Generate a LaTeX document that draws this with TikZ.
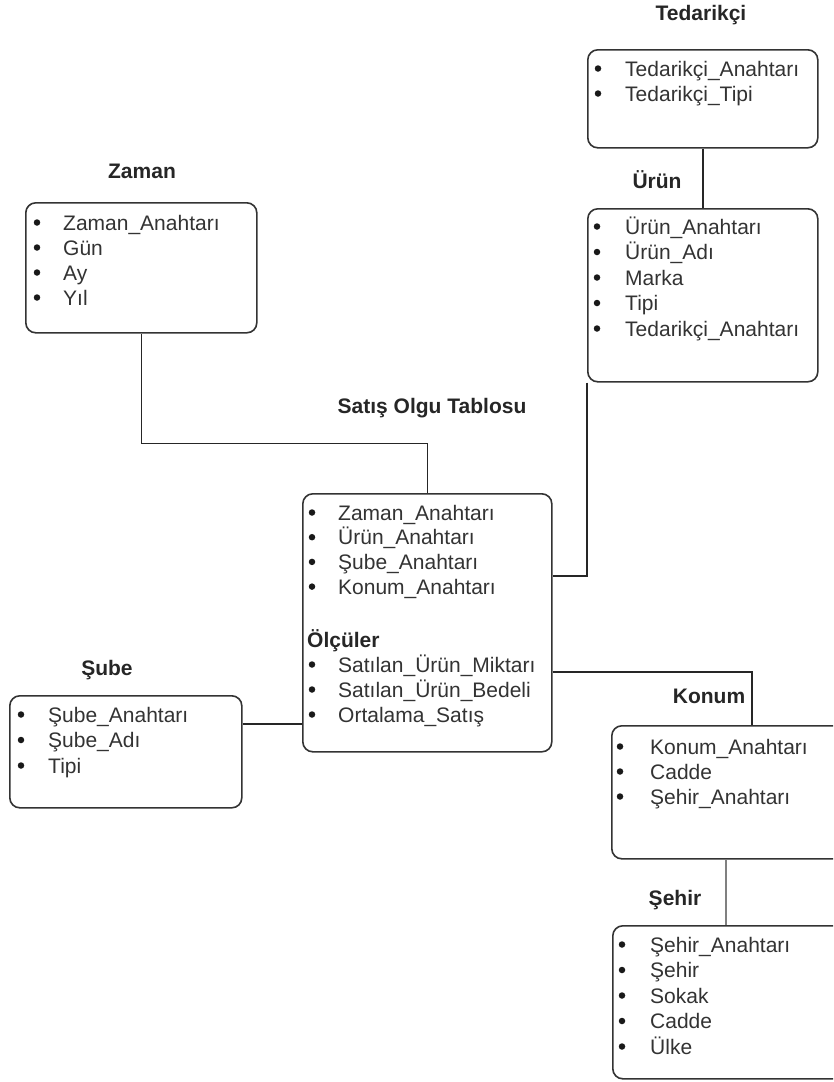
\documentclass[tikz,border=0pt]{standalone}
\usepackage{fontspec}
\setmainfont{Liberation Sans}
\begin{document}
\begin{tikzpicture}[x=1pt,y=-1pt,
  ent/.style={draw=black!80, line width=1.6pt, rounded corners=10pt, inner sep=0pt, anchor=north west},
  link/.style={draw=black!85, line width=1.6pt},
  ttl/.style={font=\fontsize{21}{25}\selectfont\bfseries, text=black!85, anchor=base, inner sep=0pt},
  bul/.style={circle, fill=black!90, inner sep=0pt, minimum size=6.5pt, yshift=7.5pt},
  txt/.style={font=\fontsize{21}{25}\selectfont, text=black!80, anchor=base west, inner sep=0pt}]
\useasboundingbox (0,0) rectangle (833,1082);
\clip (0,0) rectangle (833,1082);
\fill[white] (0,0) rectangle (833,1082);

% entity boxes
\node[ent, minimum width=230pt, minimum height=98pt]  (ted)   at (587,49)  {};
\node[ent, minimum width=230pt, minimum height=173pt] (urun)  at (587,208) {};
\node[ent, minimum width=231pt, minimum height=130pt] (zaman) at (25,202)  {};
\node[ent, minimum width=249pt, minimum height=258pt] (fact)  at (302,493) {};
\node[ent, minimum width=232pt, minimum height=112pt] (sube)  at (9,695)   {};
\node[ent, minimum width=234pt, minimum height=133pt] (konum) at (611,725) {};
\node[ent, minimum width=233pt, minimum height=153pt] (sehir) at (612,925) {};

% titles
\node[ttl] (tTed)   at (701,20)  {Tedarikçi};
\node[ttl] (tUrun)  at (657,188) {Ürün};
\node[ttl] (tZaman) at (142,178) {Zaman};
\node[ttl] (tFact)  at (432,413) {Satış Olgu Tablosu};
\node[ttl] (tSube)  at (107,675) {Şube};
\node[ttl] (tKonum) at (709,703) {Konum};
\node[ttl] (tSehir) at (675,905) {Şehir};

% attribute lists
\foreach \t [count=\i] in {Tedarikçi\_Anahtarı, Tedarikçi\_Tipi} {
  \node[bul] (tedb\i) at (598,{76+25*(\i-1)}) {};
  \node[txt] (tedt\i) at (625,{76+25*(\i-1)}) {\t};
}
\foreach \t [count=\i] in {Ürün\_Anahtarı, Ürün\_Adı, Marka, Tipi, Tedarikçi\_Anahtarı} {
  \node[bul] (urunb\i) at (597,{234+25.5*(\i-1)}) {};
  \node[txt] (urunt\i) at (625,{234+25.5*(\i-1)}) {\t};
}
\foreach \t [count=\i] in {Zaman\_Anahtarı, Gün, Ay, Yıl} {
  \node[bul] (zamanb\i) at (37,{230+25*(\i-1)}) {};
  \node[txt] (zamant\i) at (63,{230+25*(\i-1)}) {\t};
}
\foreach \t [count=\i] in {Zaman\_Anahtarı, Ürün\_Anahtarı, Şube\_Anahtarı, Konum\_Anahtarı} {
  \node[bul] (factb\i) at (312,{520+24.7*(\i-1)}) {};
  \node[txt] (factt\i) at (338,{520+24.7*(\i-1)}) {\t};
}
\node[txt, font=\fontsize{21}{25}\selectfont\bfseries, text=black!85] (olcu) at (307,647) {Ölçüler};
\foreach \t [count=\i] in {Satılan\_Ürün\_Miktarı, Satılan\_Ürün\_Bedeli, Ortalama\_Satış} {
  \node[bul] (measb\i) at (312,{672+25*(\i-1)}) {};
  \node[txt] (meast\i) at (338,{672+25*(\i-1)}) {\t};
}
\foreach \t [count=\i] in {Şube\_Anahtarı, Şube\_Adı, Tipi} {
  \node[bul] (subeb\i) at (21,{722+25.5*(\i-1)}) {};
  \node[txt] (subet\i) at (48,{722+25.5*(\i-1)}) {\t};
}
\foreach \t [count=\i] in {Konum\_Anahtarı, Cadde, Şehir\_Anahtarı} {
  \node[bul] (konumb\i) at (620,{754+25*(\i-1)}) {};
  \node[txt] (konumt\i) at (650,{754+25*(\i-1)}) {\t};
}
\foreach \t [count=\i] in {Şehir\_Anahtarı, Şehir, Sokak, Cadde, Ülke} {
  \node[bul] (sehirb\i) at (622,{952+25.5*(\i-1)}) {};
  \node[txt] (sehirt\i) at (650,{952+25.5*(\i-1)}) {\t};
}

% connectors
\draw[link] (ted.south) -- (urun.north);
\draw[link] (zaman.south) -- ++(0,110) -| (fact.north);
\draw[link] (urun.south west) |- ([yshift=47pt]fact.east);
\draw[link] ([yshift=-49pt]fact.east) -| ([xshift=141pt]konum.north west);
\draw[link] ([yshift=28pt]sube.east) -- ([yshift=28pt]sube.east -| fact.west);
\draw[link, draw=black!50] ([xshift=115pt]konum.south west) -- ([xshift=114pt]sehir.north west);
\end{tikzpicture}
\end{document}
